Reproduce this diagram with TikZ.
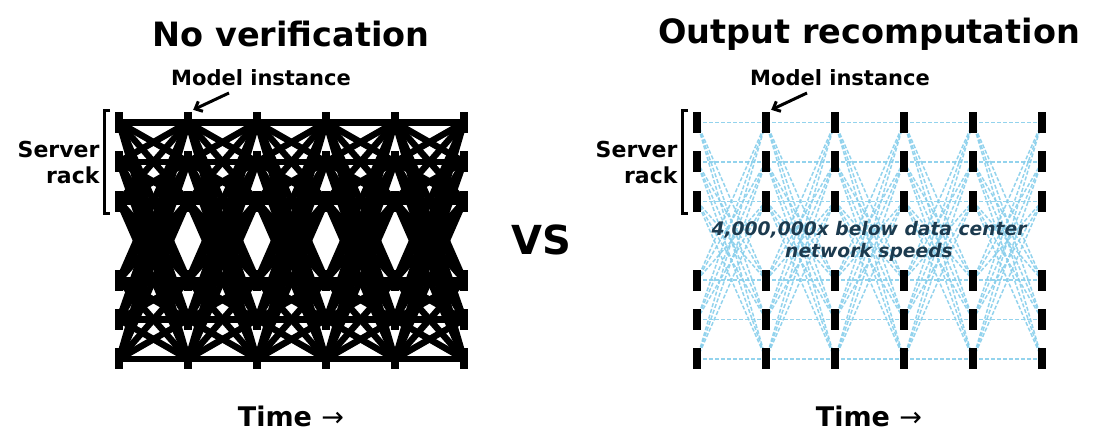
\documentclass[tikz,border=0pt]{standalone}
\usepackage{fontspec}
\setmainfont{DejaVu Sans}
\usetikzlibrary{backgrounds,arrows.meta}
\definecolor{skyln}{RGB}{135,206,235}
\definecolor{notecol}{RGB}{28,58,78}
\begin{document}
\begin{tikzpicture}[x=1pt,y=-1pt,
  bar/.style={fill=black,draw=none,inner sep=0pt,minimum width=8pt,minimum height=21pt},
  heavy/.style={line width=6.5pt,black},
  light/.style={line width=1.5pt,skyln,opacity=0.9,dash pattern=on 4pt off 2pt},
  titletxt/.style={font=\bfseries\fontsize{33.5}{40}\selectfont},
  labeltxt/.style={font=\bfseries\fontsize{21}{26}\selectfont},
  timetxt/.style={font=\bfseries\fontsize{27}{32}\selectfont},
  pointer/.style={line width=3pt,-{Straight Barb[length=6pt,width=11pt]}},
  bracketln/.style={line width=3pt}]
\useasboundingbox (0,0) rectangle (1094,444);
% model instance bars
\foreach \side/\xs in {L/119,R/697}
 \foreach \i in {0,...,5}
  \foreach \j/\yy in {0/122.5,1/161.9,2/201.3,3/280.1,4/319.5,5/358.9}
   \node[bar] (\side-\i-\j) at ({\xs+69*\i},\yy) {};
% connections
\begin{pgfonlayer}{background}
\foreach \i [evaluate=\i as \n using int(\i+1)] in {0,...,4}
 \foreach \a in {0,...,5}
  \foreach \b in {0,...,5}
   \draw[heavy] (L-\i-\a.center) -- (L-\n-\b.center);
\foreach \i [evaluate=\i as \n using int(\i+1)] in {0,...,4}{
 \foreach \a in {0,...,5}
   \draw[light] (R-\i-\a.center) -- (R-\n-\a.center);
 \foreach \a in {0,1,2}
  \foreach \b in {3,4,5}{
   \draw[light] (R-\i-\a.center) -- (R-\n-\b.center);
   \draw[light] (R-\i-\b.center) -- (R-\n-\a.center);
  }
}
\end{pgfonlayer}
% titles
\node[titletxt] (t1) at (291,34) {No verification};
\node[titletxt] (t2) at (869,34) {Output recomputation};
% model instance labels
\node[labeltxt] (m1) at (261,78) {Model instance};
\node[labeltxt] (m2) at (840,78) {Model instance};
\coordinate (a1) at (229,93);
\coordinate (a2) at (807,93);
\draw[pointer] (a1) -- ([shift={(1,-2)}]L-1-0.north east);
\draw[pointer] (a2) -- ([shift={(1,-2)}]R-1-0.north east);
% server rack
\node[labeltxt,font=\bfseries\fontsize{22}{26}\selectfont,align=right,anchor=east] (s1) at (103,162) {Server\\rack};
\node[labeltxt,font=\bfseries\fontsize{22}{26}\selectfont,align=right,anchor=east] (s2) at (681,162) {Server\\rack};
\draw[bracketln] (110,110) -- (104.5,110) -- (104.5,213) -- (110,213);
\draw[bracketln] (688,110) -- (682.5,110) -- (682.5,213) -- (688,213);
% time
\node[timetxt] (tm1) at (291,416) {Time\hspace{0.35em}{\mdseries →}};
\node[timetxt] (tm2) at (869,416) {Time\hspace{0.35em}{\mdseries →}};
% vs
\node[font=\bfseries\fontsize{40}{48}\selectfont] (vs) at (541,240) {VS};
% note
\node[font=\bfseries\itshape\fontsize{18.7}{22}\selectfont,text=notecol,align=center] (note) at (869,241) {4,000,000x below data center\\network speeds};
\end{tikzpicture}
\end{document}
